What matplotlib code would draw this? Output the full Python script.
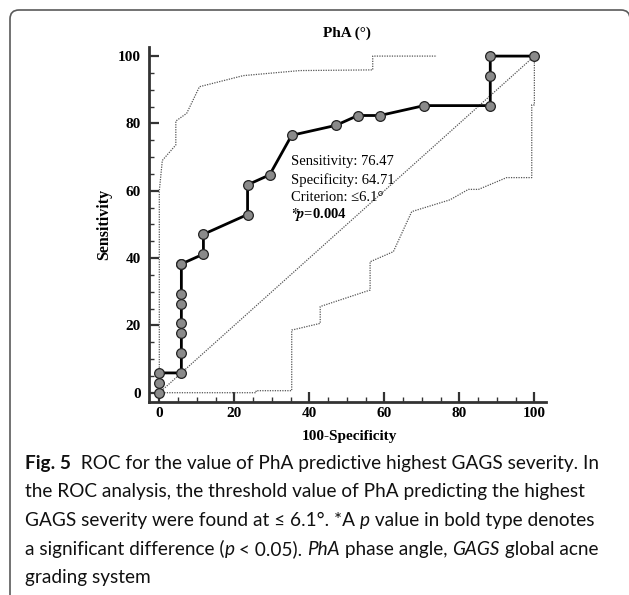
## ROC curve of PhA for highest GAGS severity
import matplotlib
matplotlib.use("Agg")
import matplotlib.pyplot as plt
from matplotlib.patches import FancyBboxPatch
from matplotlib.transforms import IdentityTransform
from matplotlib.ticker import MultipleLocator

# ROC points (100-specificity, sensitivity)
roc_x = [0, 0, 0, 5.88, 5.88, 5.88, 5.88, 5.88, 5.88, 5.88, 5.88, 11.76, 11.76,
         23.53, 23.53, 29.41, 35.29, 47.06, 52.94, 58.82, 70.59, 88.24, 88.24, 88.24, 100]
roc_y = [0, 2.94, 5.88, 5.88, 11.76, 17.65, 20.59, 26.47, 29.41, 38.24, 38.24, 41.18, 47.06,
         52.94, 61.76, 64.71, 76.47, 79.41, 82.35, 82.35, 85.29, 85.29, 94.12, 100, 100]

# confidence bounds
upper_x = [0, 0, 0.8, 4.4, 4.4, 7.3, 10.7, 22.4, 37.5, 56.9, 56.9, 74]
upper_y = [0, 60, 69, 73.6, 80.7, 83.0, 90.9, 94.2, 95.7, 95.9, 100, 100]
lower_x = [0, 25.8, 25.8, 35.3, 35.3, 42.9, 42.9, 56.2, 56.2, 62.4, 67.3, 77.5, 82.4,
           85.1, 92.6, 99.3, 99.3, 100, 100]
lower_y = [0, 0, 0.6, 0.6, 18.6, 20.6, 25.6, 30.5, 38.9, 41.9, 53.8, 57.3, 60.4,
           60.4, 63.9, 63.9, 85.5, 85.5, 100]

ticks = [0, 20, 40, 60, 80, 100]
stats = ["Sensitivity: 76.47", "Specificity: 64.71", "Criterion: \u22646.1\u00b0"]

caption = [
    [("Fig. 5", "bold", "normal"), ("  ROC for the value of PhA predictive highest GAGS severity. In", "normal", "normal")],
    [("the ROC analysis, the threshold value of PhA predicting the highest", "normal", "normal")],
    [("GAGS severity were found at \u2264 6.1\u00b0. *A ", "normal", "normal"), ("p", "normal", "italic"),
     (" value in bold type denotes", "normal", "normal")],
    [("a significant difference (", "normal", "normal"), ("p", "normal", "italic"),
     (" < 0.05). ", "normal", "normal"), ("PhA", "normal", "italic"), (" phase angle, ", "normal", "normal"),
     ("GAGS", "normal", "italic"), (" global acne", "normal", "normal")],
    [("grading system", "normal", "normal")],
]

serif = ["Liberation Serif", "DejaVu Serif"]
sans = ["Lato", "DejaVu Sans"]

fig = plt.figure(figsize=(6.29, 5.95), dpi=100)

# rounded frame around the figure
frame = FancyBboxPatch((10, -30), 620, 615, boxstyle="round,pad=0,rounding_size=9",
                       transform=IdentityTransform(), fill=False, edgecolor="#5a5a5a", linewidth=1.2)
fig.add_artist(frame)

ax = fig.add_axes([149 / 629, 1 - 401.7 / 595, 397 / 629, 354.7 / 595])
ax.set_xlim(-2.75, 103.1)
ax.set_ylim(-2.67, 102.7)

ax.plot([0, 100], [0, 100], color="#555555", lw=0.9, ls=(0, (1, 1)))
ax.plot(upper_x, upper_y, color="#555555", lw=0.9, ls=(0, (1, 1)))
ax.plot(lower_x, lower_y, color="#555555", lw=0.9, ls=(0, (1, 1)))
ax.plot(roc_x, roc_y, color="black", lw=2.0, marker="o", markersize=7,
        markerfacecolor="#8a8a8a", markeredgecolor="#222222", markeredgewidth=0.9, zorder=3)

for s in ["top", "right"]:
    ax.spines[s].set_visible(False)
for s in ["left", "bottom"]:
    ax.spines[s].set_linewidth(2.0)
    ax.spines[s].set_color("#333333")

ax.set_xticks(ticks)
ax.set_yticks(ticks)
ax.xaxis.set_minor_locator(MultipleLocator(5))
ax.yaxis.set_minor_locator(MultipleLocator(5))
ax.tick_params(which="major", direction="in", length=7, width=1.6, color="#333333", pad=4)
ax.tick_params(which="minor", direction="in", length=3.5, width=1.0, color="#333333")
ax.tick_params(axis="y", which="major", pad=6)
for lab in ax.get_xticklabels() + ax.get_yticklabels():
    lab.set_family(serif)
    lab.set_fontweight("bold")
    lab.set_fontsize(11)

ax.set_xlabel("100-Specificity", family=serif, fontweight="bold", fontsize=11, va="center")
ax.xaxis.set_label_coords(0.506, -0.0995)
ax.set_ylabel("Sensitivity", family=serif, fontweight="bold", fontsize=11.5, va="center")
ax.yaxis.set_label_coords(-0.113, 0.50)
ax.text(0.499, 1.039, "PhA (\u00b0)", transform=ax.transAxes, family=serif, fontweight="bold",
        fontsize=11, ha="center", va="center")

# stats box text
stat_y = [68.6, 63.2, 57.9]
for txt, yy in zip(stats, stat_y):
    ax.text(35.1, yy, txt, family=serif, fontsize=10.5, ha="left", va="center")
ax.text(35.1, 52.9, r"$\boldsymbol{*}\!\mathbfit{p}$" + "=0.004", family=serif, fontsize=10.5,
        fontweight="bold", ha="left", va="center", math_fontfamily="stix")

# caption, drawn piece by piece so bold/italic parts sit inline
line_top = 463
for i, parts in enumerate(caption):
    yfig = 1 - (line_top + i * 28.7) / 595
    last = None
    for txt, w, st in parts:
        if last is None:
            last = fig.text(25 / 629, yfig, txt, family=sans, fontsize=13.7, fontweight=w,
                            style=st, ha="left", va="center", color="#111111")
        else:
            last = ax.annotate(txt, xy=(1, 0), xycoords=last, family=sans, fontsize=13.7,
                               fontweight=w, style=st, ha="left", va="bottom",
                               color="#111111", annotation_clip=False)

fig.savefig("out.png", dpi=100)
